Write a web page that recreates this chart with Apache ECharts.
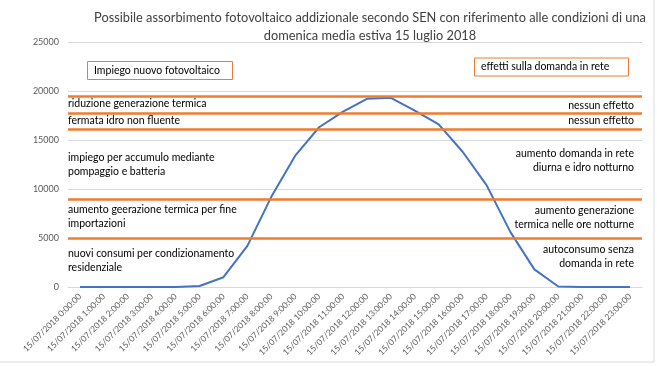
<!DOCTYPE html>
<html><head><meta charset="utf-8">
<script src="https://cdn.jsdelivr.net/npm/echarts@6/dist/echarts.min.js"></script>
<style>html,body{margin:0;padding:0;background:#fff}#c{width:657px;height:366px}</style>
</head><body><div id="c"></div>
<script>
const titleText = "Possibile assorbimento fotovoltaico addizionale secondo SEN con riferimento alle condizioni di una\ndomenica media estiva 15 luglio 2018";
const hours = ["0:00:00","1:00:00","2:00:00","3:00:00","4:00:00","5:00:00","6:00:00","7:00:00","8:00:00","9:00:00","10:00:00","11:00:00","12:00:00","13:00:00","14:00:00","15:00:00","16:00:00","17:00:00","18:00:00","19:00:00","20:00:00","21:00:00","22:00:00","23:00:00"];
const categories = hours.map(h => "15/07/2018 " + h);
const pvValues = [0,0,0,0,0,100,1000,4200,9200,13400,16300,17900,19200,19300,18000,16600,13800,10400,5600,1800,50,0,0,0];
const thresholds = [19500,17700,16100,9000,5000];
const yTicks = [0,5000,10000,15000,20000,25000];
const boxLeft = "Impiego nuovo fotovoltaico";
const boxRight = "effetti sulla domanda in rete";
const leftNotes = ["riduzione generazione termica","fermata idro non fluente","impiego per accumulo mediante\npompaggio e batteria","aumento geerazione termica per fine\nimportazioni","nuovi consumi per condizionamento\nresidenziale"];
const rightNotes = ["nessun effetto","nessun effetto","aumento domanda in rete\ndiurna e idro notturno","aumento generazione\ntermica nelle ore notturne","autoconsumo senza\ndomanda in rete"];

const FONT = "Lato";
const NOTE_FONT = '10.5px ' + FONT;
const chart = echarts.init(document.getElementById('c'), null, {renderer:'canvas'});
const leftY = [104,121,164.5,216.5,260.5];
const rightY = [106,121,160.5,217.5,256.5];
const graphics = [];
graphics.push({type:'line', shape:{x1:654,y1:0,x2:654,y2:362}, style:{stroke:'#d9d9d9',lineWidth:1}});
graphics.push({type:'line', shape:{x1:0,y1:362,x2:654,y2:362}, style:{stroke:'#d9d9d9',lineWidth:1}});
graphics.push({type:'rect', shape:{x:87.5,y:61.5,width:145,height:18}, style:{fill:'#fff',stroke:'#ED7D31',lineWidth:1}});
graphics.push({type:'text', x:94, y:70.5, style:{text:boxLeft, font:NOTE_FONT, fill:'#000', textVerticalAlign:'middle'}});
graphics.push({type:'rect', shape:{x:474.5,y:58,width:154,height:18}, style:{fill:'#fff',stroke:'#ED7D31',lineWidth:1}});
graphics.push({type:'text', x:481, y:67, style:{text:boxRight, font:NOTE_FONT, fill:'#000', textVerticalAlign:'middle'}});
leftNotes.forEach((t,i)=>graphics.push({type:'text', x:68, y:leftY[i], style:{text:t, font:NOTE_FONT, fill:'#000', textVerticalAlign:'middle', lineHeight:14}}));
rightNotes.forEach((t,i)=>graphics.push({type:'text', x:634, y:rightY[i], style:{text:t, font:NOTE_FONT, fill:'#000', textAlign:'right', textVerticalAlign:'middle', lineHeight:14}}));

chart.setOption({
  animation:false,
  title:{text:titleText, left:365, textAlign:'center', top:4, textStyle:{fontFamily:FONT, fontSize:12.8, fontWeight:'normal', color:'#404040', lineHeight:18}},
  grid:{left:68, right:15, top:42, bottom:79},
  xAxis:{type:'category', data:categories, boundaryGap:true,
    axisLine:{lineStyle:{color:'#d9d9d9'}}, axisTick:{show:false},
    axisLabel:{rotate:45, interval:0, fontSize:8.5, color:'#595959', fontFamily:FONT, margin:8}},
  yAxis:{type:'value', min:yTicks[0], max:yTicks[yTicks.length-1], interval:5000,
    axisLine:{show:false}, axisTick:{show:false},
    axisLabel:{fontSize:9, color:'#595959', fontFamily:FONT, margin:9, formatter:v=>String(v)},
    splitLine:{lineStyle:{color:'#d9d9d9'}}},
  series:[{type:'line', data:pvValues, symbol:'none', lineStyle:{color:'#4472C4', width:2}, z:3,
    markLine:{silent:true, symbol:'none', label:{show:false}, lineStyle:{color:'#ED7D31', width:2.5, type:'solid'},
      data:thresholds.map(v=>({yAxis:v}))}}],
  graphic:graphics
});
</script></body></html>
